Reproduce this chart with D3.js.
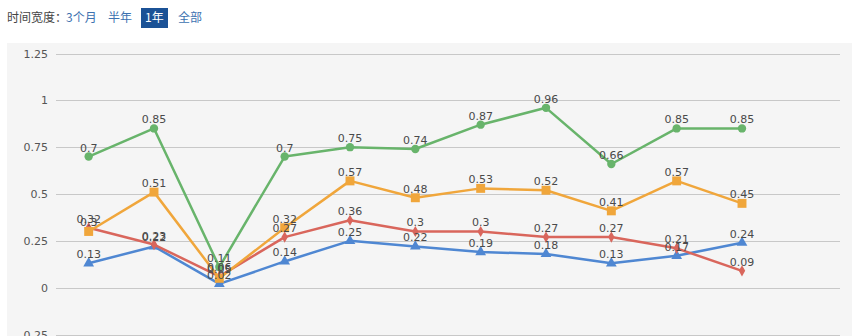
<!DOCTYPE html>
<html><head><meta charset="utf-8">
<script src="https://cdn.jsdelivr.net/npm/d3@7"></script>
<style>
html,body{margin:0;padding:0;background:#fff;overflow:hidden;}
svg{display:block;font-family:"DejaVu Sans","Noto Sans CJK SC",sans-serif;}
</style></head>
<body>
<svg id="chart" width="852" height="336"></svg>
<script>
const periods = ["P1","P2","P3","P4","P5","P6","P7","P8","P9","P10","P11"];
const greenValues  = [0.7, 0.85, 0.11, 0.7, 0.75, 0.74, 0.87, 0.96, 0.66, 0.85, 0.85];
const orangeValues = [0.3, 0.51, 0.05, 0.32, 0.57, 0.48, 0.53, 0.52, 0.41, 0.57, 0.45];
const redValues    = [0.32, 0.23, 0.06, 0.27, 0.36, 0.3, 0.3, 0.27, 0.27, 0.21, 0.09];
const blueValues   = [0.13, 0.22, 0.02, 0.14, 0.25, 0.22, 0.19, 0.18, 0.13, 0.17, 0.24];
const yTicks = [-0.25, 0, 0.25, 0.5, 0.75, 1, 1.25];
const yTickLabels = ["-0.25", "0", "0.25", "0.5", "0.75", "1", "1.25"];
const rangeLabel = "时间宽度：";
const rangeOptions = ["3个月", "半年", "1年", "全部"];
const activeRange = "1年";

const series = [
  {name:"blue",   values: blueValues,   color:"#4f87d2", symbol: d3.symbolTriangle, size: 50},
  {name:"red",    values: redValues,    color:"#d9665c", symbol: d3.symbolDiamond,  size: 36},
  {name:"orange", values: orangeValues, color:"#f0a63b", symbol: d3.symbolSquare,   size: 80},
  {name:"green",  values: greenValues,  color:"#68b46b", symbol: d3.symbolCircle,   size: 55}
];

const svg = d3.select("#chart");

// range selector
const sel = svg.append("g").attr("font-size", 12).attr("font-family", "'Noto Sans CJK SC', sans-serif");
sel.append("text").attr("x", 7).attr("y", 22).attr("fill", "#444").text(rangeLabel);
const optX = [66, 108, 145, 178];
rangeOptions.forEach((o, i) => {
  if (o === activeRange) {
    sel.append("rect").attr("x", optX[i] - 4).attr("y", 8).attr("width", 27).attr("height", 20).attr("fill", "#1b5296");
    sel.append("text").attr("x", optX[i]).attr("y", 22).attr("fill", "#fff").text(o);
  } else {
    sel.append("text").attr("x", optX[i]).attr("y", 22).attr("fill", "#3d72b0").text(o);
  }
});

// panel
svg.append("rect").attr("x", 7).attr("y", 43).attr("width", 845).attr("height", 300).attr("fill", "#f5f5f5");

const y = d3.scaleLinear().domain([-0.25, 1.25]).range([334.5, 53.5]);
const x = d3.scaleBand().domain(periods.concat([""])).range([56, 840]).padding(0);
const cx = p => x(p) + x.bandwidth() / 2;

// grid
const grid = svg.append("g");
yTicks.forEach((t, i) => {
  grid.append("line").attr("x1", 56).attr("x2", 840)
    .attr("y1", Math.round(y(t)) + 0.5).attr("y2", Math.round(y(t)) + 0.5)
    .attr("stroke", "#c8c8c8").attr("stroke-width", 1);
  grid.append("text").attr("x", 48).attr("y", y(t) + 4).attr("text-anchor", "end")
    .attr("font-size", 11).attr("fill", "#555").text(yTickLabels[i]);
});

const line = d3.line().x((d, i) => cx(periods[i])).y(d => y(d));

series.forEach(s => {
  const g = svg.append("g");
  g.append("path").attr("d", line(s.values)).attr("fill", "none")
    .attr("stroke", s.color).attr("stroke-width", 2.5).attr("stroke-linejoin", "round");
  g.selectAll("path.m").data(s.values).enter().append("path").attr("class", "m")
    .attr("d", d3.symbol().type(s.symbol).size(s.size))
    .attr("transform", (d, i) => `translate(${cx(periods[i])},${y(d)})`)
    .attr("fill", s.color);
});
series.forEach(s => {
  svg.append("g").selectAll("text").data(s.values).enter().append("text")
    .attr("x", (d, i) => cx(periods[i])).attr("y", d => y(d) - 5)
    .attr("text-anchor", "middle").attr("font-size", 11).attr("fill", "#4a4a4a")
    .text(d => String(d));
});
</script>
</body></html>
